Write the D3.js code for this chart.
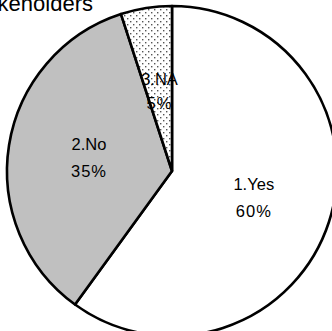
<!DOCTYPE html>
<html>
<head>
<meta charset="utf-8">
<script src="https://cdn.jsdelivr.net/npm/d3@7"></script>
<style>
  html, body { margin: 0; padding: 0; background: #fff; }
  svg { display: block; }
</style>
</head>
<body>
<svg id="chart" width="332" height="331"></svg>
<script>
// Answers to the stakeholder question
const categories = ["1.Yes", "2.No", "3.NA"];
const values = [60, 35, 5];
const percentLabels = ["60%", "35%", "5%"];
const title = "Stakeholders";

const svg = d3.select("#chart");
const cx = 172, cy = 171, radius = 165;

// Dotted fill for the NA slice
const defs = svg.append("defs");
const pat = defs.append("pattern")
  .attr("id", "dots")
  .attr("patternUnits", "userSpaceOnUse")
  .attr("width", 6).attr("height", 6);
pat.append("rect").attr("width", 6).attr("height", 6).attr("fill", "#fff");
pat.append("rect").attr("x", 0).attr("y", 0).attr("width", 1.4).attr("height", 1.4).attr("fill", "#555");
pat.append("rect").attr("x", 3).attr("y", 3).attr("width", 1.4).attr("height", 1.4).attr("fill", "#555");

const fills = d3.scaleOrdinal()
  .domain(categories)
  .range(["#ffffff", "#c0c0c0", "url(#dots)"]);

const pie = d3.pie().sort(null).value(d => d.value);
const arcs = pie(categories.map((c, i) => ({ cat: c, value: values[i], pct: percentLabels[i] })));

const arc = d3.arc().innerRadius(0).outerRadius(radius);

const g = svg.append("g").attr("transform", `translate(${cx},${cy})`);

g.selectAll("path.slice")
  .data(arcs)
  .join("path")
  .attr("class", "slice")
  .attr("d", arc)
  .attr("fill", d => fills(d.data.cat))
  .attr("stroke", "#000")
  .attr("stroke-width", 2.6)
  .attr("stroke-linejoin", "round");

// Label radius for each slice
const labelRadius = [86, 84, 80];
const lineGap = [26, 26, 23];

const labels = g.selectAll("g.lbl")
  .data(arcs)
  .join("g")
  .attr("class", "lbl")
  .attr("transform", (d, i) => {
    const c = d3.arc().innerRadius(labelRadius[i]).outerRadius(labelRadius[i]).centroid(d);
    return `translate(${c[0]},${c[1]})`;
  })
  .style("font-family", "'Liberation Sans', Arial, sans-serif")
  .style("font-size", "16.5px")
  .attr("fill", "#000")
  .attr("text-anchor", "middle");

labels.append("text")
  .attr("y", (d, i) => -lineGap[i] / 2 + 5)
  .text(d => d.data.cat);

labels.append("text")
  .attr("y", (d, i) => lineGap[i] / 2 + 6)
  .attr("letter-spacing", "1px")
  .text(d => d.data.pct);

// Chart title, running off the top-left corner
svg.append("text")
  .attr("x", 93)
  .attr("y", 11)
  .attr("text-anchor", "end")
  .style("font-family", "'Liberation Sans', Arial, sans-serif")
  .style("font-size", "22px")
  .attr("fill", "#000")
  .text(title);
</script>
</body>
</html>
